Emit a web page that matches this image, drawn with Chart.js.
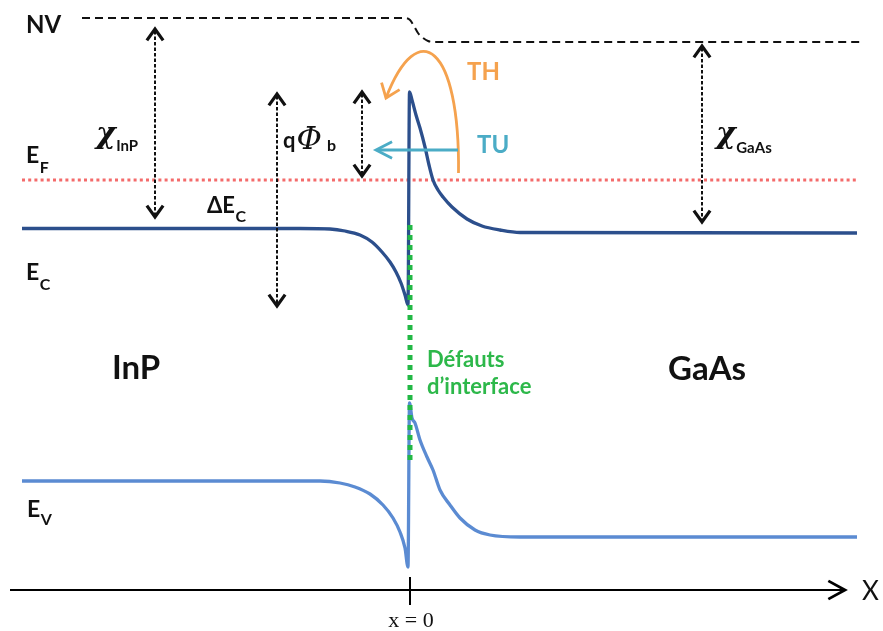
<!DOCTYPE html>
<html>
<head>
<meta charset="utf-8">
<script src="https://cdn.jsdelivr.net/npm/chart.js@4/dist/chart.umd.min.js"></script>
<style>
html,body{margin:0;padding:0;background:#fff;}
#wrap{width:883px;height:631px;}
</style>
</head>
<body>
<div id="wrap"><canvas id="c" width="883" height="631"></canvas></div>
<script>
// Position x (arbitrary units, x = 0 at the interface) and energy E (arbitrary units)
const ecX = [-38.8, -11.0, -8.0, -6.5, -5.0, -3.8, -2.8, -2.0, -1.4, -0.9, -0.5, -0.2, -0.05, 0.2, 0.6, 1.0, 1.5, 1.9, 2.3, 2.8, 3.3, 4.2, 5.7, 7.2, 9.0, 11.0, 44.7];
const ecE = [3.615, 3.615, 3.61, 3.59, 3.55, 3.48, 3.38, 3.28, 3.18, 3.07, 2.95, 2.85, 4.98, 4.90, 4.75, 4.62, 4.43, 4.25, 4.10, 4.00, 3.93, 3.83, 3.71, 3.64, 3.60, 3.575, 3.57];
const evX = [-38.8, -9.0, -7.0, -5.5, -4.0, -2.7, -1.7, -1.0, -0.5, -0.2, -0.05, 0.2, 0.5, 1.0, 1.7, 2.3, 3.0, 4.0, 5.0, 6.5, 8.0, 11.0, 44.7];
const evE = [1.09, 1.09, 1.07, 1.03, 0.96, 0.85, 0.72, 0.58, 0.42, 0.23, 1.87, 1.72, 1.67, 1.50, 1.33, 1.20, 1.00, 0.85, 0.72, 0.60, 0.55, 0.53, 0.53];
const nvX = [-32.8, -1.0, -0.5, 0.0, 0.4, 0.8, 1.3, 1.8, 2.5, 45.0];
const nvE = [5.72, 5.72, 5.72, 5.70, 5.64, 5.57, 5.52, 5.49, 5.48, 5.48];
const efX = [-38.8, 44.8];
const efE = [4.10, 4.10];
const defX = [0, 0];
const defE = [3.65, 1.28];

// Annotation anchors (same units)
const arrowX   = [-25.5, -13.3, -4.8, 29.2];
const arrowTop = [5.62, 4.97, 4.99, 5.45];
const arrowBot = [3.72, 2.83, 4.13, 3.67];

const pts = (xs, ys) => xs.map((x, i) => ({x: x, y: ys[i]}));

function P(chart, x, y) {
  return [chart.scales.x.getPixelForValue(x), chart.scales.y.getPixelForValue(y)];
}

function chevron(ctx, tx, ty, dx, dy, len, ang) {
  const n = Math.hypot(dx, dy); dx /= n; dy /= n;
  const bx = -dx, by = -dy;
  const c = Math.cos(ang), s = Math.sin(ang);
  const a1 = [bx * c - by * s, bx * s + by * c];
  const a2 = [bx * c + by * s, -bx * s + by * c];
  ctx.beginPath();
  ctx.moveTo(tx + a1[0] * len, ty + a1[1] * len);
  ctx.lineTo(tx, ty);
  ctx.lineTo(tx + a2[0] * len, ty + a2[1] * len);
  ctx.stroke();
}

function txt(ctx, s, x, y, font, color, align) {
  ctx.font = font;
  ctx.fillStyle = color;
  ctx.textAlign = align || 'left';
  ctx.textBaseline = 'alphabetic';
  ctx.fillText(s, x, y);
  return x + ctx.measureText(s).width;
}

const deco = {
  id: 'deco',
  afterDatasetsDraw(chart) {
    const ctx = chart.ctx;
    ctx.save();
    ctx.lineCap = 'butt';
    ctx.lineJoin = 'miter';
    // X axis with arrow
    const [ax0, ay] = P(chart, -40.0, 0);
    const [ax1] = P(chart, 43.5, 0);
    ctx.strokeStyle = '#000'; ctx.lineWidth = 2; ctx.setLineDash([]);
    ctx.beginPath(); ctx.moveTo(ax0, ay); ctx.lineTo(ax1 - 2, ay); ctx.stroke();
    ctx.lineWidth = 2.8;
    chevron(ctx, ax1, ay, 1, 0, 19, 0.5);
    const [tx, tt] = P(chart, 0, 0.13);
    const [, tb] = P(chart, 0, -0.15);
    ctx.lineWidth = 2;
    ctx.beginPath(); ctx.moveTo(tx, tt); ctx.lineTo(tx, tb); ctx.stroke();

    // double arrows
    for (let i = 0; i < arrowX.length; i++) {
      const [x, yt] = P(chart, arrowX[i], arrowTop[i]);
      const [, yb] = P(chart, arrowX[i], arrowBot[i]);
      ctx.strokeStyle = '#111';
      ctx.lineWidth = 2; ctx.setLineDash([3.5, 2]);
      ctx.beginPath(); ctx.moveTo(x, yt + 3); ctx.lineTo(x, yb - 3); ctx.stroke();
      ctx.setLineDash([]); ctx.lineWidth = 3.2;
      chevron(ctx, x, yt + 1, 0, -1, 14, 0.62);
      chevron(ctx, x, yb - 1, 0, 1, 14, 0.62);
    }

    // TH arc (orange)
    const s = P(chart, 4.85, 4.17), c1 = P(chart, 5.0, 5.45), c2 = P(chart, 0.8, 5.75), e = P(chart, -2.4, 4.92);
    ctx.strokeStyle = '#f5a24e'; ctx.lineWidth = 2.8;
    ctx.beginPath(); ctx.moveTo(s[0], s[1]);
    ctx.bezierCurveTo(c1[0], c1[1], c2[0], c2[1], e[0], e[1]); ctx.stroke();
    chevron(ctx, e[0], e[1], e[0] - c2[0], e[1] - c2[1], 16, 0.65);

    // TU arrow (blue)
    const u0 = P(chart, 4.8, 4.40), u1 = P(chart, -3.4, 4.40);
    ctx.strokeStyle = '#4bacc6'; ctx.lineWidth = 2.8;
    ctx.beginPath(); ctx.moveTo(u0[0], u0[1]); ctx.lineTo(u1[0] + 2, u1[1]); ctx.stroke();
    chevron(ctx, u1[0], u1[1], -1, 0, 18, 0.47);

    // labels
    const F = 'Lato, "Open Sans", sans-serif';
    const B = 'bold ';
    const K = '#111';
    const sub = (main, subs, x, e, dy, mf, sf) => {
      const q = P(chart, x, e);
      const end = txt(ctx, main, q[0], q[1], mf, K);
      txt(ctx, subs, end + 0.5, q[1] + dy, sf, K);
    };
    let q;
    q = P(chart, -38.4, 5.57); txt(ctx, 'NV', q[0], q[1], B + '24px ' + F, K);
    sub('E', 'F', -38.4, 4.27, 10, B + '23px ' + F, B + '16px ' + F);
    sub('E', 'C', -38.4, 3.10, 10, B + '23px ' + F, B + '16px ' + F);
    sub('E', 'V', -38.3, 0.73, 8, B + '23px ' + F, B + '16px ' + F);
    sub('ΔE', 'C', -20.3, 3.77, 9, B + '22px ' + F, B + '16px ' + F);
    sub('χ', 'InP', -31.4, 4.47, 8, 'bold italic 30px "DejaVu Serif", serif', B + '15px ' + F);
    sub('χ', 'GaAs', 30.6, 4.47, 10, 'bold italic 30px "DejaVu Serif", serif', B + '15px ' + F);
    q = P(chart, -12.7, 4.42); let qe = txt(ctx, 'q', q[0], q[1], B + '22px ' + F, K);
    qe = txt(ctx, 'Φ', qe + 1, q[1] + 1, 'italic 31px "DejaVu Serif", serif', K);
    txt(ctx, 'b', qe + 5, q[1] + 3, B + '16px ' + F, K);
    q = P(chart, 5.7, 5.10); txt(ctx, 'TH', q[0], q[1], B + '24px ' + F, '#f5a24e');
    q = P(chart, 6.7, 4.37); txt(ctx, 'TU', q[0], q[1], B + '24px ' + F, '#4bacc6');
    q = P(chart, -29.8, 2.11); txt(ctx, 'InP', q[0], q[1], B + '33px ' + F, K);
    q = P(chart, 25.8, 2.10); txt(ctx, 'GaAs', q[0], q[1], B + '33px ' + F, K);
    q = P(chart, 1.7, 2.23); txt(ctx, 'Défauts', q[0], q[1], B + '22px ' + F, '#2db84a');
    q = P(chart, 1.7, 1.96); txt(ctx, 'd’interface', q[0], q[1], B + '22px ' + F, '#2db84a');
    q = P(chart, 45.2, -0.10); txt(ctx, 'X', q[0], q[1], '26px ' + F, K);
    q = P(chart, 0.1, -0.37); txt(ctx, 'x = 0', q[0], q[1], '22px "Liberation Serif", "Times New Roman", serif', K, 'center');
    ctx.restore();
  }
};

new Chart(document.getElementById('c'), {
  type: 'line',
  data: {
    datasets: [
      { label: 'Défauts', data: pts(defX, defE), borderColor: '#22b845', borderWidth: 5, borderDash: [5, 5], pointRadius: 0, order: 0 },
      { label: 'Ec', data: pts(ecX, ecE), borderColor: '#2c4f8c', borderWidth: 3.3, pointRadius: 0, cubicInterpolationMode: 'monotone', order: 1 },
      { label: 'Ev', data: pts(evX, evE), borderColor: '#5b8bd2', borderWidth: 3.3, pointRadius: 0, cubicInterpolationMode: 'monotone', order: 2 },
      { label: 'EF', data: pts(efX, efE), borderColor: '#f46b6b', borderWidth: 3, borderDash: [3, 3.2], pointRadius: 0, order: 3 },
      { label: 'NV', data: pts(nvX, nvE), borderColor: '#111', borderWidth: 2, borderDash: [8, 5], pointRadius: 0, cubicInterpolationMode: 'monotone', order: 4 }
    ]
  },
  options: {
    responsive: false,
    animation: false,
    devicePixelRatio: 1,
    layout: { padding: 0 },
    plugins: { legend: { display: false }, tooltip: { enabled: false }, title: { display: false } },
    scales: {
      x: { type: 'linear', min: -41, max: 47.3, display: false },
      y: { type: 'linear', min: -0.41, max: 5.90, display: false }
    }
  },
  plugins: [deco]
});
</script>
</body>
</html>
